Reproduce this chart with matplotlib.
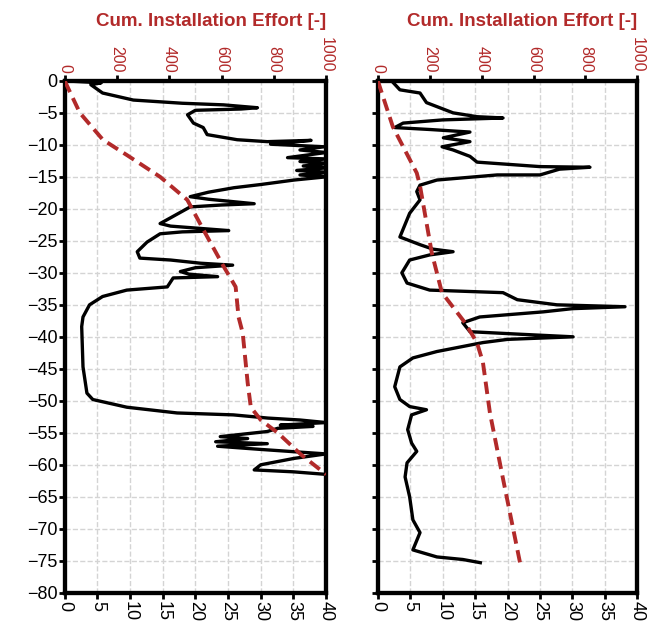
import numpy as np
import matplotlib
matplotlib.use("Agg")
import matplotlib.pyplot as plt

plt.rcParams['font.family'] = ['Liberation Sans', 'DejaVu Sans']

RED = '#B22A2A'

# left pile: black trace (bottom axis) vs depth
left_x = [0, 5.6, 4.0, 5.8, 10.5, 18, 24.3, 29.5, 27, 20, 18.8, 19.7, 21.2, 21.8, 26.4, 31,
          37.7, 31.5, 39.7, 36, 40, 34.1, 40, 36, 40.5, 36.5, 40, 35.5, 40.5, 36, 40, 35.1,
          30, 25.9, 22, 19.2, 22, 29, 24, 19.2, 16.2, 14.6, 16.2, 20, 25.1, 18, 14.6, 12.6,
          11.1, 11.5, 16.2, 20.8, 25.7, 20, 17.7, 19, 23.4, 16.6, 15.7, 9.5, 5.8, 3.8, 2.8,
          2.6, 2.8, 3.4, 4.3, 9.5, 17.2, 25.8, 31.1, 36, 40, 33, 38, 32.6, 31, 23.8, 28,
          23.1, 31, 23.4, 30, 40, 35.1, 30, 29, 35, 40]
left_z = [0, -0.3, -0.6, -1.9, -3.0, -3.5, -3.75, -4.2, -4.4, -4.6, -5.3, -6.6, -7.3, -8.4, -9.2, -9.5,
          -9.3, -9.9, -10.3, -10.8, -11.2, -12.0, -12.2, -12.6, -12.9, -13.3, -13.6, -14.0, -14.3, -14.7, -15.0, -15.5,
          -16.2, -16.7, -17.4, -18.1, -18.5, -19.2, -19.4, -19.7, -21.4, -22.3, -22.7, -23.0, -23.4, -23.6, -23.9, -25.2,
          -26.7, -27.7, -28.0, -28.5, -28.8, -29.2, -29.8, -30.2, -30.6, -30.8, -32.2, -32.7, -33.7, -35.0, -36.9,
          -38.4, -44.7, -48.8, -49.8, -51.0, -51.9, -52.2, -52.7, -53.0, -53.4, -53.8, -54.0, -54.3, -54.8, -55.6, -55.9,
          -56.4, -56.7, -57.1, -57.6, -58.3, -59.0, -60.0, -60.8, -61.1, -61.5]

# left pile: cumulative installation effort
left_eff = [0, 58, 146, 238, 365, 469, 531, 608, 654, 665, 681, 700, 712, 750, 815, 904, 1000]
left_eff_z = [0, -5, -9.2, -11.6, -15, -18.6, -23.3, -29, -32.2, -36.9, -39.4, -47.2, -51, -53, -55, -58.4, -61.5]

# right pile
right_x = [2.3, 3.4, 6.5, 7.5, 11.6, 15.3, 19.3, 10, 3.9, 2.6, 8, 14.2, 10.1, 14.2, 9.9, 11.6,
           14.2, 15.3, 25, 32.7, 28, 25, 18.4, 9.1, 6.5, 6.0, 6.5, 4.9, 3.4, 6.5, 8.5, 11.6,
           8, 4.9, 3.7, 4.5, 8.0, 19.3, 21.5, 27.6, 38.1, 30, 25.5, 15.7, 13.1, 14.2, 22, 30.1,
           20, 16.2, 9.1, 5.4, 3.4, 2.6, 3.4, 4.9, 7.5, 5.2, 4.6, 5.2, 6.0, 4.5, 4.2, 4.9,
           5.4, 6.5, 5.4, 9.1, 13.1, 15.8]
right_z = [-0.2, -1.4, -1.9, -3.4, -5.0, -5.6, -5.8, -6.1, -6.6, -7.3, -7.6, -8.0, -8.9, -9.5, -10.3, -10.8,
           -11.8, -12.7, -13.4, -13.5, -13.8, -14.7, -14.7, -15.5, -16.3, -17.3, -18.6, -20.7, -24.4, -25.6, -26.3, -26.7,
           -27.2, -28.0, -30.0, -31.6, -32.7, -33.1, -34.2, -35.0, -35.3, -35.6, -36.1, -36.9, -37.8, -39.2, -39.6, -40.0,
           -40.4, -40.9, -42.3, -43.3, -44.7, -47.8, -49.8, -50.9, -51.4, -52.2, -54.5, -56.6, -57.9, -59.7, -61.9, -65,
           -68.6, -70.6, -73.3, -74.4, -74.8, -75.3]

right_eff = [0, 58, 150, 162, 208, 247, 336, 382, 405, 432, 483, 548]
right_eff_z = [0, -7.2, -14.4, -16.3, -26.9, -33.1, -37.8, -40.9, -44, -51.9, -62.3, -75.3]

fig = plt.figure(figsize=(6.47, 6.22), dpi=100)
ax1 = fig.add_axes([0.100, 0.047, 0.404, 0.823])
ax2 = fig.add_axes([0.584, 0.047, 0.401, 0.823])


def style_panel(ax, x, z, eff, eff_z, show_y):
    ax.plot(x, z, color='black', lw=2.4, zorder=3)
    ax.set_xlim(0, 40)
    ax.set_ylim(-80, 0)
    ax.set_xticks(np.arange(0, 41, 5))
    ax.set_yticks(np.arange(-80, 1, 5))
    ax.grid(True, linestyle='--', color='#d4d4d4', lw=1.0)
    ax.set_axisbelow(True)
    for s in ax.spines.values():
        s.set_linewidth(3)
    ax.tick_params(axis='x', labelsize=13, rotation=-90, length=4, width=2, pad=2)
    ax.tick_params(axis='y', labelsize=13, length=4, width=2, pad=1, labelleft=show_y)

    top = ax.twiny()
    top.plot(eff, eff_z, color=RED, lw=2.8, ls=(0, (3.2, 1.7)), zorder=4)
    top.set_xlim(0, 1000)
    top.set_xticks(np.arange(0, 1001, 200))
    top.tick_params(axis='x', labelsize=11.5, labelcolor=RED, rotation=-90, length=4, width=2, pad=2)
    for s in top.spines.values():
        s.set_linewidth(3)
    top.set_title('Cum. Installation Effort [-]', loc='right', color=RED,
                  fontsize=13.5, fontweight='bold', pad=8)
    return top


style_panel(ax1, left_x, left_z, left_eff, left_eff_z, True)
style_panel(ax2, right_x, right_z, right_eff, right_eff_z, False)

fig.savefig('out.png', dpi=100)
